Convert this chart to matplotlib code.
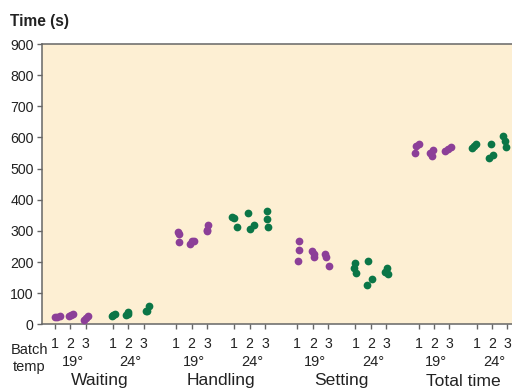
import matplotlib
matplotlib.use("Agg")
import matplotlib.pyplot as plt
from matplotlib.transforms import blended_transform_factory

plt.rcParams['font.family'] = ['Liberation Sans', 'DejaVu Sans']

# ---- data -------------------------------------------------------------
phases = ["Waiting", "Handling", "Setting", "Total time"]
temps = ["19°", "24°"]
batches = ["1", "2", "3"]

# measured times (s), three runs per batch: [batch1, batch2, batch3]
waiting_19 = [[22, 24, 27], [27, 30, 33], [15, 20, 26]]
waiting_24 = [[27, 30, 34], [29, 34, 39], [42, 44, 60]]
handling_19 = [[297, 289, 265], [258, 266, 268], [320, 299, 302]]
handling_24 = [[344, 340, 313], [358, 306, 320], [364, 339, 313]]
setting_19 = [[267, 237, 203], [236, 226, 217], [226, 215, 188]]
setting_24 = [[198, 180, 166], [204, 146, 127], [180, 167, 160]]
total_19 = [[578, 571, 550], [561, 551, 541], [570, 563, 555]]
total_24 = [[580, 572, 565], [580, 542, 533], [603, 589, 569]]

# horizontal jitter of each run, in units of batch spacing
jitter_waiting_19 = [[0.0, 0.15, 0.3], [-0.08, 0.04, 0.15], [-0.1, 0.0, 0.13]]
jitter_waiting_24 = [[-0.08, 0.02, 0.13], [-0.15, -0.05, 0.0], [0.16, 0.2, 0.32]]
jitter_handling_19 = [[0.11, 0.19, 0.19], [-0.13, 0.03, 0.19], [0.04, 0.0, 0.02]]
jitter_handling_24 = [[-0.13, -0.02, 0.17], [-0.08, 0.0, 0.26], [0.13, 0.16, 0.21]]
jitter_setting_19 = [[0.1, 0.1, 0.06], [-0.06, 0.05, 0.07], [-0.18, -0.12, 0.05]]
jitter_setting_24 = [[-0.03, -0.08, 0.05], [-0.19, 0.06, -0.27], [0.05, -0.08, 0.14]]
jitter_total_19 = [[0.02, -0.18, -0.24], [-0.06, -0.26, -0.16], [0.08, -0.08, -0.27]]
jitter_total_24 = [[-0.01, -0.14, -0.27], [-0.05, 0.08, -0.18], [-0.31, -0.13, -0.1]]

y_ticks = [0, 100, 200, 300, 400, 500, 600, 700, 800, 900]

series = [
    (waiting_19, jitter_waiting_19), (waiting_24, jitter_waiting_24),
    (handling_19, jitter_handling_19), (handling_24, jitter_handling_24),
    (setting_19, jitter_setting_19), (setting_24, jitter_setting_24),
    (total_19, jitter_total_19), (total_24, jitter_total_24),
]

# ---- layout -----------------------------------------------------------
PHASE_STEP = 7.87   # distance between phase groups (batch units)
TEMP_STEP = 3.77    # distance between temperature groups
temp_colors = ["#8c3f98", "#0b7647"]
bg = "#fdefd3"
axis_grey = "#666666"
text_col = "#222222"

W, H = 512, 390
fig = plt.figure(figsize=(W / 100, H / 100), dpi=100)
ax = fig.add_axes([42 / W, 1 - 324.3 / H, 1 - 42 / W, (324.3 - 44) / H])
ax.set_facecolor(bg)

tick_pos = []
for p in range(len(phases)):
    for t in range(len(temps)):
        for b in range(len(batches)):
            tick_pos.append(p * PHASE_STEP + t * TEMP_STEP + b)

for idx, (vals, jit) in enumerate(series):
    p, t = divmod(idx, 2)
    for b in range(len(batches)):
        x0 = p * PHASE_STEP + t * TEMP_STEP + b
        xs = [x0 + j for j in jit[b]]
        ax.scatter(xs, vals[b], s=31, color=temp_colors[t], linewidths=0,
                   zorder=3)

ax.set_xlim(-0.84, (W - 55) / 15.4)
ax.set_ylim(0, 900)

ax.set_yticks(y_ticks)
ax.set_yticklabels([str(v) for v in y_ticks], fontsize=10.2, color=text_col)
ax.set_xticks(tick_pos)
ax.set_xticklabels(batches * (len(phases) * len(temps)), fontsize=10.2,
                   color=text_col)
ax.tick_params(axis='y', length=3.6, width=1.0, color=axis_grey, pad=2.4)
ax.tick_params(axis='x', length=3.6, width=1.0, color=axis_grey, pad=5.2)

for side in ("left", "bottom", "top"):
    ax.spines[side].set_color(axis_grey)
    ax.spines[side].set_linewidth(1.1)
ax.spines["right"].set_visible(False)

# temperature and phase labels under the batch numbers
trans = blended_transform_factory(ax.transData, fig.transFigure)
for p, name in enumerate(phases):
    for t, tl in enumerate(temps):
        xc = p * PHASE_STEP + t * TEMP_STEP + 1
        ax.text(xc + 0.15, 1 - 365.5 / H, tl, transform=trans, ha="center",
                va="baseline", fontsize=10.5, color=text_col, clip_on=False)
    xc = p * PHASE_STEP + (TEMP_STEP + 2) / 2
    ax.text(xc, 1 - 385.5 / H, name, transform=trans, ha="center",
            va="baseline", fontsize=12.6, color=text_col, clip_on=False)

fig.text(29.5 / W, 1 - 354 / H, "Batch", ha="center", va="baseline",
         fontsize=10.5, color=text_col)
fig.text(29.5 / W, 1 - 371.5 / H, "temp", ha="center", va="baseline",
         fontsize=10.5, color=text_col)
fig.text(10 / W, 1 - 26 / H, "Time (s)", ha="left", va="baseline",
         fontsize=11.2, fontweight="bold", color=text_col)

fig.savefig("out.png", dpi=100, facecolor="white")
